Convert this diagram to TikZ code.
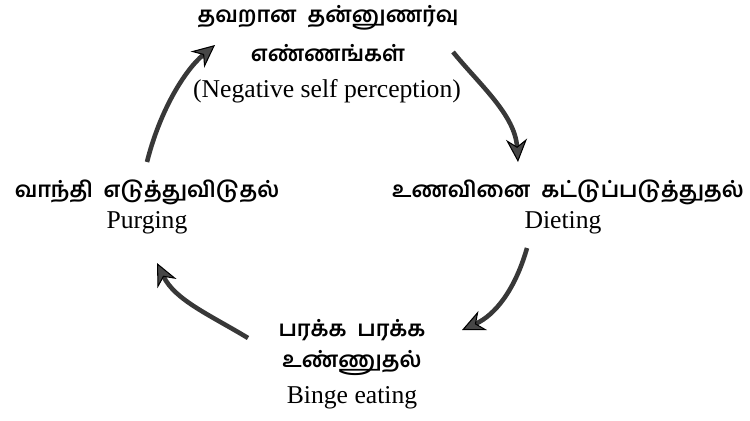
\documentclass[tikz,border=0pt]{standalone}
\usepackage{fontspec}
\setmainfont{Liberation Serif}
\newfontfamily\tamil[Script=Tamil]{Hind Madurai}
\usetikzlibrary{arrows.meta}

\tikzset{
  ta/.style={font=\tamil\bfseries\fontsize{12.5}{15}\selectfont, inner sep=1pt},
  en/.style={font=\fontsize{14.6}{17}\selectfont, inner sep=1pt},
  flow/.style={line width=2.6pt, draw=black!78,
    -{Stealth[length=13pt,width=12pt,fill=black!72,color=black,line width=0.6pt]}}
}

\begin{document}
\begin{tikzpicture}[x=0.02cm, y=-0.02cm]
        \useasboundingbox (0,0) rectangle (750,420);
        % labels
        \node[ta] (neg1) at (328,18) {தவறான\ \ தன்னுணர்வு};
        \node[ta] (neg2) at (328,53) {எண்ணங்கள்};
        \node[en] (neg3) at (327,91) {(Negative self perception)};
        \node[ta] (diet1) at (568,192) {உணவினை\ \ கட்டுப்படுத்துதல்};
        \node[en] (diet2) at (563,223) {Dieting};
        \node[ta] (binge1) at (352,330) {பரக்க\ \ பரக்க};
        \node[ta] (binge2) at (352,363) {உண்ணுதல்};
        \node[en] (binge3) at (352,398) {Binge eating};
        \node[ta] (purge1) at (147,192) {வாந்தி\ \ எடுத்துவிடுதல்};
        \node[en] (purge2) at (147,223) {Purging};
        % arrow ends
        \coordinate (a1) at (453,52);
        \coordinate (a2) at (518,162);
        \coordinate (b1) at (527,248);
        \coordinate (b2) at (462,330);
        \coordinate (c1) at (248,338);
        \coordinate (c2) at (157,263);
        \coordinate (d1) at (147,162);
        \coordinate (d2) at (215,45);
        \draw[flow] (a1) .. controls (480,85) and (515,115) .. (a2);
        \draw[flow] (b1) .. controls (515,290) and (495,315) .. (b2);
        \draw[flow] (c1) .. controls (210,315) and (175,300) .. (c2);
        \draw[flow] (d1) .. controls (160,110) and (185,70) .. (d2);
\end{tikzpicture}
\end{document}
